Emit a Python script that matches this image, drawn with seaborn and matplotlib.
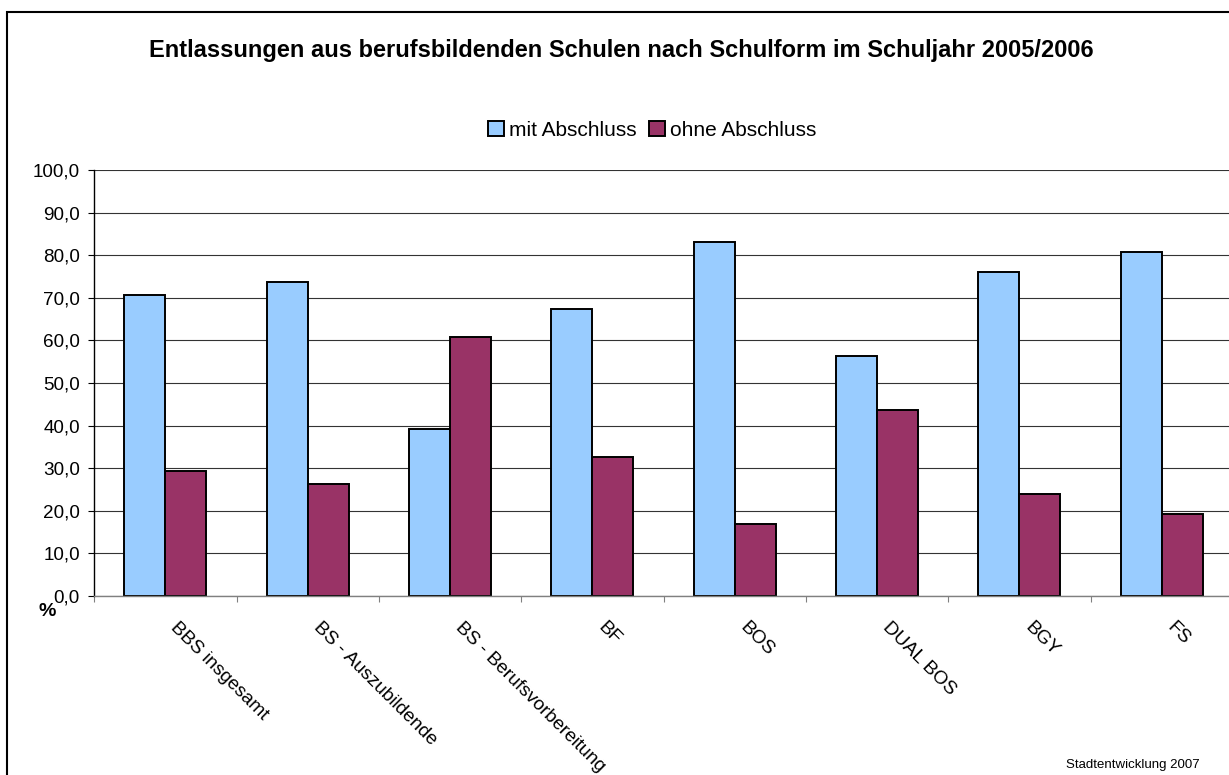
import numpy as np
import pandas as pd
import matplotlib
matplotlib.use("Agg")
import matplotlib.pyplot as plt
import matplotlib.ticker as mticker
import matplotlib.transforms as mtransforms
import seaborn as sns

categories = ["BBS insgesamt", "BS - Auszubildende", "BS - Berufsvorbereitung",
              "BF", "BOS", "DUAL BOS", "BGY", "FS"]
mit_abschluss = [70.6, 73.7, 39.2, 67.3, 83.2, 56.3, 76.0, 80.8]
ohne_abschluss = [29.4, 26.3, 60.8, 32.7, 16.8, 43.7, 24.0, 19.2]
series = ["mit Abschluss", "ohne Abschluss"]
y_ticks = [0, 10, 20, 30, 40, 50, 60, 70, 80, 90, 100]

df = pd.DataFrame({
    "Schulform": categories * 2,
    "Anteil": mit_abschluss + ohne_abschluss,
    "Status": [series[0]] * len(categories) + [series[1]] * len(categories),
})

sns.set_style("white")
plt.rcParams["font.family"] = ["Liberation Sans", "DejaVu Sans"]
plt.rcParams["text.color"] = "black"
plt.rcParams["xtick.color"] = "black"
plt.rcParams["ytick.color"] = "black"

fig = plt.figure(figsize=(12.29, 7.75), dpi=100)
ax = fig.add_axes([0.0767, 0.2314, 0.9265, 0.5489])

sns.barplot(data=df, x="Schulform", y="Anteil", hue="Status", hue_order=series,
            palette=["#99CCFF", "#993366"], saturation=1, width=0.576,
            edgecolor="black", linewidth=1.4, errorbar=None, ax=ax)

# axis styling
ax.set_ylim(0, 100)
ax.set_xlim(-0.5, len(categories) - 0.5)
ax.set_yticks(y_ticks)
ax.yaxis.set_major_formatter(mticker.FuncFormatter(lambda v, p: f"{v:.1f}".replace(".", ",")))
ax.yaxis.grid(True, color="#333333", linewidth=0.8)
ax.set_axisbelow(True)
ax.set_xlabel("")
ax.set_ylabel("")
for side in ["top", "right"]:
    ax.spines[side].set_visible(False)
ax.spines["left"].set_color("black")
ax.spines["left"].set_linewidth(1.0)
ax.spines["bottom"].set_color("#808080")
ax.spines["bottom"].set_linewidth(1.0)

ax.tick_params(axis="y", left=True, length=4.3, width=0.8, color="black",
               labelsize=13.6, pad=6)
ax.set_xticks(np.arange(-0.5, len(categories), 1), minor=True)
ax.tick_params(axis="x", which="major", bottom=False, length=0, pad=17, labelsize=13.8)
ax.tick_params(axis="x", which="minor", bottom=True, length=4.3, width=0.8,
               color="#808080", direction="out")
shift = mtransforms.ScaledTranslation(14 / 100, 0, fig.dpi_scale_trans)
for lbl in ax.get_xticklabels():
    lbl.set_rotation(-45)
    lbl.set_ha("left")
    lbl.set_va("top")
    lbl.set_rotation_mode("anchor")
    lbl.set_transform(lbl.get_transform() + shift)

# legend on top
handles, labels = ax.get_legend_handles_labels()
ax.get_legend().remove()
fig.legend(handles, labels, loc="center", bbox_to_anchor=(652 / 1229, 1 - 130 / 775),
           ncol=2, frameon=False, fontsize=15, handlelength=0.75, handleheight=0.75,
           handletextpad=0.25, columnspacing=0.6)

fig.text(621 / 1229, 1 - 50 / 775,
         "Entlassungen aus berufsbildenden Schulen nach Schulform im Schuljahr 2005/2006",
         ha="center", va="center", fontsize=17, fontweight="bold")
fig.text(47 / 1229, 1 - 612 / 775, "%", ha="center", va="center",
         fontsize=14, fontweight="bold")
fig.text(1200 / 1229, 1 - 765 / 775, "Stadtentwicklung 2007", ha="right",
         va="center", fontsize=9.5)

# chart frame (cropped on the right and bottom like the original)
fig.patches.append(plt.Rectangle((7 / 1229, -0.05), 1.1, 0.05 + 1 - 12 / 775,
                                 transform=fig.transFigure, fill=False,
                                 edgecolor="black", linewidth=1.5))

fig.savefig("out.png", dpi=100)
